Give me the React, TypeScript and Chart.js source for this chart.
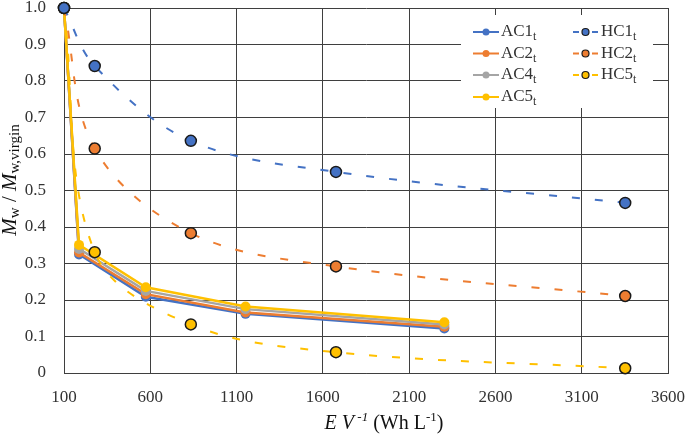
import React, { useEffect, useRef } from "react";
import { Chart, registerables } from "chart.js";
Chart.register(...registerables);

// ---- data ----
const xTicks = [100, 600, 1100, 1600, 2100, 2600, 3100, 3600];
const yTicks = [0, 0.1, 0.2, 0.3, 0.4, 0.5, 0.6, 0.7, 0.8, 0.9, 1.0];
const yTickLabels = ["0", "0.1", "0.2", "0.3", "0.4", "0.5", "0.6", "0.7", "0.8", "0.9", "1.0"];

const acX = [100, 187, 574, 1152, 2304];
const ac1 = [1.0, 0.325, 0.209, 0.162, 0.122];
const ac2 = [1.0, 0.33, 0.216, 0.166, 0.127];
const ac4 = [1.0, 0.34, 0.225, 0.175, 0.133];
const ac5 = [1.0, 0.351, 0.235, 0.182, 0.139];

const hcX = [100, 278, 835, 1676, 3352];
const hc1 = [1.0, 0.841, 0.636, 0.551, 0.466];
const hc2 = [1.0, 0.615, 0.383, 0.292, 0.211];
const hc5 = [1.0, 0.331, 0.133, 0.057, 0.013];

const acNames = ["AC1", "AC2", "AC4", "AC5"];
const hcNames = ["HC1", "HC2", "HC5"];

const BLUE = "#4472C4";
const ORANGE = "#ED7D31";
const GRAY = "#A5A5A5";
const YELLOW = "#FFC000";
const FONT = "'Liberation Serif', serif";
const GRID = "#3f3f3f";
const TEXT = "#333333";

type Seg = { t: string; f: string; dy?: number };

function drawRich(ctx: CanvasRenderingContext2D, segs: Seg[], cx: number, cy: number, align: "center" | "left") {
  let total = 0;
  for (const s of segs) {
    ctx.font = s.f;
    total += ctx.measureText(s.t).width;
  }
  let x = align === "center" ? cx - total / 2 : cx;
  ctx.textAlign = "left";
  ctx.textBaseline = "middle";
  for (const s of segs) {
    ctx.font = s.f;
    ctx.fillText(s.t, x, cy + (s.dy || 0));
    x += ctx.measureText(s.t).width;
  }
}

const decorPlugin = {
  id: "decor",
  afterDraw(chart: any) {
    const ctx: CanvasRenderingContext2D = chart.ctx;
    const a = chart.chartArea;
    ctx.save();
    ctx.fillStyle = "#111";
    // Y title
    ctx.save();
    ctx.translate(10, 180);
    ctx.rotate(-Math.PI / 2);
    drawRich(
      ctx,
      [
        { t: "M", f: `italic 21px ${FONT}` },
        { t: "w", f: `15px ${FONT}`, dy: 5 },
        { t: " / ", f: `21px ${FONT}` },
        { t: "M", f: `italic 21px ${FONT}` },
        { t: "w,virgin", f: `15px ${FONT}`, dy: 5 },
      ],
      0,
      0,
      "center"
    );
    ctx.restore();
    // X title
    drawRich(
      ctx,
      [
        { t: "E", f: `italic 20px ${FONT}` },
        { t: " ", f: `20px ${FONT}` },
        { t: "V", f: `italic 20px ${FONT}` },
        { t: " -1", f: `italic 13px ${FONT}`, dy: -6 },
        { t: " (Wh L", f: `20px ${FONT}` },
        { t: "-1", f: `13px ${FONT}`, dy: -6 },
        { t: ")", f: `20px ${FONT}` },
      ],
      384,
      424,
      "center"
    );

    // Legend
    const R = a.right;
    const T = a.top;
    ctx.fillStyle = "#ffffff";
    ctx.fillRect(R - 207, T + 7, 192, 93);
    const rows = [24, 45.5, 67, 89];
    const acCols = [BLUE, ORANGE, GRAY, YELLOW];
    const hcCols = [BLUE, ORANGE, YELLOW];
    acNames.forEach((n, i) => {
      const y = T + rows[i];
      ctx.strokeStyle = acCols[i];
      ctx.lineWidth = 2;
      ctx.beginPath();
      ctx.moveTo(R - 195, y);
      ctx.lineTo(R - 169, y);
      ctx.stroke();
      ctx.fillStyle = acCols[i];
      ctx.beginPath();
      ctx.arc(R - 182, y, 3.5, 0, Math.PI * 2);
      ctx.fill();
      ctx.fillStyle = TEXT;
      drawRich(
        ctx,
        [
          { t: n, f: `17px ${FONT}` },
          { t: "t", f: `12px ${FONT}`, dy: 5 },
        ],
        R - 167,
        y,
        "left"
      );
    });
    hcNames.forEach((n, i) => {
      const y = T + rows[i];
      ctx.strokeStyle = hcCols[i];
      ctx.lineWidth = 2;
      ctx.beginPath();
      ctx.moveTo(R - 95, y);
      ctx.lineTo(R - 89, y);
      ctx.moveTo(R - 76, y);
      ctx.lineTo(R - 70, y);
      ctx.stroke();
      ctx.fillStyle = hcCols[i];
      ctx.strokeStyle = "#1a1a1a";
      ctx.lineWidth = 1.2;
      ctx.beginPath();
      ctx.arc(R - 82.5, y, 3.5, 0, Math.PI * 2);
      ctx.fill();
      ctx.stroke();
      ctx.fillStyle = TEXT;
      drawRich(
        ctx,
        [
          { t: n, f: `17px ${FONT}` },
          { t: "t", f: `12px ${FONT}`, dy: 5 },
        ],
        R - 67,
        y,
        "left"
      );
    });
    ctx.restore();
  },
};

function acDataset(label: string, ys: number[], color: string, order: number) {
  return {
    label,
    data: acX.map((x, i) => ({ x, y: ys[i] })),
    borderColor: color,
    backgroundColor: color,
    borderWidth: 2.5,
    pointRadius: 5,
    pointBorderWidth: 0,
    pointBackgroundColor: color,
    pointBorderColor: color,
    tension: 0,
    order,
    clip: false,
  };
}

function hcDataset(label: string, ys: number[], color: string, order: number) {
  return {
    label,
    data: hcX.map((x, i) => ({ x, y: ys[i] })),
    borderColor: color,
    backgroundColor: color,
    borderWidth: 2,
    borderDash: [8, 15],
    pointRadius: 5.5,
    pointBorderWidth: 1.5,
    pointBackgroundColor: color,
    pointBorderColor: "#1a1a1a",
    tension: 0.35,
    order,
    clip: false,
  };
}

export default function App() {
  const ref = useRef<HTMLCanvasElement | null>(null);
  useEffect(() => {
    if (!ref.current) return;
    const chart = new Chart(ref.current, {
      type: "line",
      data: {
        datasets: [
          acDataset("AC1t", ac1, BLUE, 7),
          acDataset("AC2t", ac2, ORANGE, 6),
          acDataset("AC4t", ac4, GRAY, 5),
          acDataset("AC5t", ac5, YELLOW, 4),
          hcDataset("HC1t", hc1, BLUE, 1),
          hcDataset("HC2t", hc2, ORANGE, 2),
          hcDataset("HC5t", hc5, YELLOW, 3),
        ] as any,
      },
      options: {
        animation: false,
        responsive: false,
        devicePixelRatio: 1,
        layout: { padding: { top: 8, right: 17, left: 0, bottom: 0 } },
        plugins: { legend: { display: false }, tooltip: { enabled: false }, title: { display: false } },
        scales: {
          x: {
            type: "linear",
            min: 100,
            max: 3600,
            afterBuildTicks: (s: any) => {
              s.ticks = xTicks.map((v) => ({ value: v }));
            },
            afterFit: (s: any) => {
              s.height = 63;
              s.paddingLeft = 0;
              s.paddingRight = 0;
              s.paddingTop = 0;
              s.paddingBottom = 0;
            },
            ticks: {
              font: { family: FONT, size: 17 },
              color: TEXT,
              padding: 14,
              maxRotation: 0,
              autoSkip: false,
              callback: (v: any) => String(v),
            },
            grid: { color: GRID, lineWidth: 1, drawTicks: false },
            border: { color: GRID, width: 1 },
          },
          y: {
            type: "linear",
            min: 0,
            max: 1,
            afterBuildTicks: (s: any) => {
              s.ticks = yTicks.map((v) => ({ value: v }));
            },
            afterFit: (s: any) => {
              s.width = 64;
              s.paddingLeft = 0;
              s.paddingRight = 0;
              s.paddingTop = 0;
              s.paddingBottom = 0;
            },
            ticks: {
              font: { family: FONT, size: 17 },
              color: TEXT,
              padding: 18,
              autoSkip: false,
              callback: (v: any) => {
                const idx = yTicks.findIndex((t) => Math.abs(t - v) < 1e-9);
                return idx >= 0 ? yTickLabels[idx] : "";
              },
            },
            grid: { color: GRID, lineWidth: 1, drawTicks: false },
            border: { color: GRID, width: 1 },
          },
        },
      },
      plugins: [decorPlugin],
    });
    return () => chart.destroy();
  }, []);
  return (
    <div style={{ position: "absolute", left: 0, top: 0, width: 685, height: 436, background: "#fff" }}>
      <canvas ref={ref} width={685} height={436} style={{ display: "block" }} />
    </div>
  );
}
